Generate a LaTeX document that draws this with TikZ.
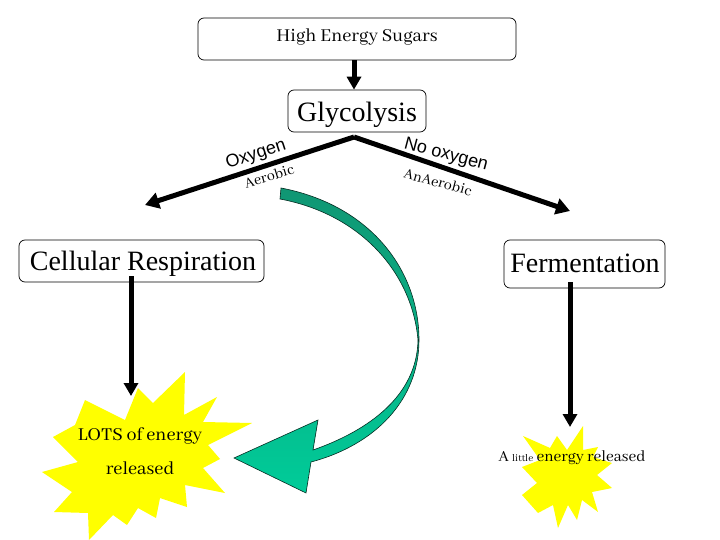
\documentclass[tikz,border=0pt]{standalone}
\usepackage{fontspec}
\setmainfont{Liberation Serif}
\newfontfamily\oldfont{Abhaya Libre}
\newfontfamily\armfont{Liberation Sans}
\usetikzlibrary{arrows.meta}
\definecolor{burst}{RGB}{255,255,0}
\definecolor{swoopdark}{RGB}{16,150,115}
\definecolor{swooplight}{RGB}{0,204,153}
\tikzset{
    boxed/.style={draw, rounded corners=6pt, line width=.7pt, inner sep=0pt},
    flow/.style={line width=5pt, -{Triangle[width=14pt,length=13pt]}},
    fork/.style={line width=5pt, -{Triangle[width=16pt,length=14pt]}},
    oldtext/.style={font=\oldfont\fontsize{20}{24}\selectfont, inner sep=0pt},
    armtop/.style={font=\armfont\fontsize{18}{20}\selectfont, inner sep=0pt},
    armsub/.style={font=\oldfont\fontsize{16}{20}\selectfont, inner sep=0pt},
}
\begin{document}
\begin{tikzpicture}[x=1pt, y=-1pt]
    \useasboundingbox (0,0) rectangle (720,540);

    % yellow bursts
    \fill[burst] (185,372) -- (184,415) -- (217,397) -- (203,422) -- (252,423) -- (208,445)
        -- (220,459) -- (203,468) -- (225,493) -- (185,485) -- (187,507) -- (160,498)
        -- (156,518) -- (138,508) -- (127,525) -- (113,515) -- (89,540) -- (88,513)
        -- (54,512) -- (72,492) -- (42,472) -- (78,462) -- (53,437) -- (75,425)
        -- (85,400) -- (125,420) -- (138,388) -- (153,403) -- cycle;
    \fill[burst] (583,426) -- (583,450) -- (598,447) -- (593,457) -- (612,463) -- (597,475)
        -- (612,488) -- (592,492) -- (598,512) -- (582,500) -- (577,520) -- (568,505)
        -- (558,528) -- (553,505) -- (538,513) -- (522,495) -- (537,483) -- (522,467)
        -- (540,460) -- (523,436) -- (550,448) -- (557,436) -- (567,450) -- cycle;

    % green arrow
    \shade[draw=black!70!swoopdark, line width=.6pt, top color=swoopdark, bottom color=swooplight]
        (281,188) .. controls (370,205) and (419,270) .. (419,340)
        .. controls (419,400) and (375,445) .. (311,462)
        -- (306,493) -- (234,458) -- (318,420) -- (313,450)
        .. controls (370,430) and (417,395) .. (418,340)
        .. controls (412,272) and (360,214) .. (280,199) -- cycle;

    \node[boxed, minimum width=318pt, minimum height=42pt] (sugars) at (357,39) {};
    \node[boxed, minimum width=138pt, minimum height=42pt] (glyco) at (357,111) {};
    \node[boxed, minimum width=245pt, minimum height=42pt] (cell) at (141.5,261) {};
    \node[boxed, minimum width=161pt, minimum height=48pt] (ferment) at (584.5,264) {};

    \node[oldtext] (sugarstext) at (357,37) {High Energy Sugars};
    \node[font=\fontsize{28}{30}\selectfont, inner sep=0pt] (glycotext) at (357,115) {Glycolysis};
    \node[font=\fontsize{28}{30}\selectfont, inner sep=0pt] (celltext) at (143,264) {Cellular Respiration};
    \node[font=\fontsize{28}{30}\selectfont, inner sep=0pt] (fermenttext) at (585,263) {Fermentation};

    \node[armtop, rotate=18] (oxy) at (256,155) {Oxygen};
    \node[armsub, rotate=17] (aer) at (269,176) {Aerobic};
    \node[armtop, rotate=-15] (nooxy) at (446,155) {No oxygen};
    \node[armsub, rotate=-15] (anaer) at (438,182) {AnAerobic};

    \node[oldtext] (lots) at (140,436) {LOTS of energy};
    \node[oldtext] (rel) at (140,468) {released};
    \node[oldtext, font=\oldfont\fontsize{17}{20}\selectfont] (little) at (572,458)
        {A {\fontsize{11}{12}\selectfont little} energy released};

    \coordinate (apex) at (354,137);
    \coordinate (leftend) at (145,205);
    \coordinate (rightend) at (570,211);
    \coordinate (lotstop) at (131,396);
    \coordinate (littletop) at (570,427);

    \begin{scope}[every path/.style={flow}]
       \draw ([xshift=-3pt]sugars.south) -- ([xshift=-3pt]glyco.north);
       \draw ([xshift=-10.5pt,yshift=6pt]cell.south) -- (lotstop);
       \draw ([xshift=-14.5pt,yshift=6pt]ferment.south) -- (littletop);
    \end{scope}
    \draw[fork] (apex) -- (leftend);
    \draw[fork] (apex) -- (rightend);
\end{tikzpicture}
\end{document}
